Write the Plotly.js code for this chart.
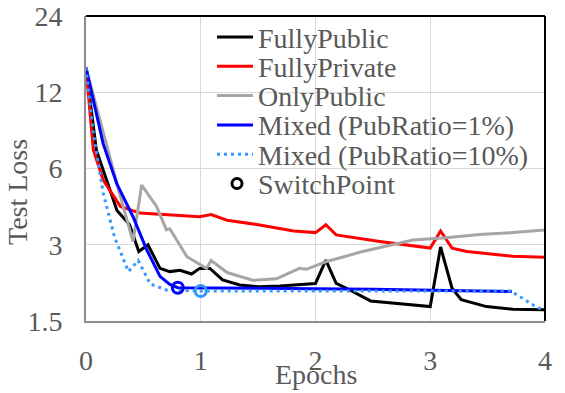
<!DOCTYPE html>
<html>
<head>
<meta charset="utf-8">
<script src="https://cdn.plot.ly/plotly-3.0.1.min.js"></script>
<style>
  body { margin: 0; background: #fff; }
  #plot { width: 565px; height: 393px; }
</style>
</head>
<body>
<div id="plot"></div>
<script>
// Epochs and test loss
var pubX = [0, 0.09, 0.27, 0.38, 0.46, 0.54, 0.645, 0.73, 0.82, 0.92, 0.99, 1.08, 1.19, 1.34, 1.5, 1.69, 2.0, 2.09, 2.18, 2.27, 2.48, 2.65, 3.0, 3.09, 3.19, 3.27, 3.49, 3.72, 4.0];
var pubY = [15, 7.1, 4.1, 3.6, 2.82, 3.0, 2.42, 2.35, 2.38, 2.3, 2.42, 2.42, 2.18, 2.08, 2.05, 2.06, 2.11, 2.61, 2.11, 2.02, 1.8, 1.77, 1.71, 2.94, 2.02, 1.82, 1.71, 1.67, 1.66];

var privX = [0, 0.064, 0.15, 0.3, 0.47, 0.99, 1.09, 1.23, 1.5, 1.81, 2.0, 2.09, 2.18, 2.56, 3.0, 3.09, 3.19, 3.32, 3.72, 4.0];
var privY = [15, 7.1, 5.4, 4.25, 4.0, 3.87, 3.95, 3.75, 3.6, 3.4, 3.35, 3.6, 3.28, 3.09, 2.91, 3.4, 2.91, 2.82, 2.7, 2.68];

var onlyX = [0, 0.15, 0.3, 0.41, 0.485, 0.615, 0.7, 0.73, 0.88, 1.05, 1.09, 1.23, 1.46, 1.66, 1.86, 1.92, 2.09, 2.41, 2.85, 3.14, 3.43, 3.72, 4.0];
var onlyY = [15, 8.3, 4.65, 3.09, 5.16, 4.25, 3.44, 3.47, 2.69, 2.42, 2.6, 2.33, 2.17, 2.2, 2.42, 2.4, 2.57, 2.82, 3.13, 3.2, 3.29, 3.35, 3.43];

var mix1X = [0, 0.15, 0.27, 0.41, 0.53, 0.645, 0.73, 0.8, 1.5, 2.5, 3.71];
var mix1Y = [15, 7.5, 5.2, 3.87, 2.86, 2.25, 2.09, 2.03, 2.02, 2.0, 1.96];

var mix10X = [0, 0.064, 0.15, 0.25, 0.37, 0.455, 0.56, 0.7, 1.0, 2.0, 3.0, 3.7, 3.8, 3.9, 4.0];
var mix10Y = [15, 8.3, 4.8, 3.2, 2.35, 2.6, 2.1, 1.99, 1.97, 1.97, 1.97, 1.97, 1.85, 1.73, 1.64];

var switchX = [0.8, 1.0];
var switchY = [2.03, 1.97];

var yTicks = [1.5, 3, 6, 12, 24];

var legendNames = ['FullyPublic', 'FullyPrivate', 'OnlyPublic', 'Mixed (PubRatio=1%)', 'Mixed (PubRatio=10%)', 'SwitchPoint'];
var legendColors = ['#000000', '#ff0000', '#a6a6a6', '#0000ff', '#3399ff', '#000000'];

var serif = 'Liberation Serif';
var textGray = '#595959';

var traces = [
    { x: pubX, y: pubY, mode: 'lines', line: { color: legendColors[0], width: 3 } },
    { x: privX, y: privY, mode: 'lines', line: { color: legendColors[1], width: 3 } },
    { x: onlyX, y: onlyY, mode: 'lines', line: { color: legendColors[2], width: 3 } },
    { x: mix1X, y: mix1Y, mode: 'lines', line: { color: legendColors[3], width: 3 } },
    { x: mix10X, y: mix10Y, mode: 'lines', line: { color: legendColors[4], width: 3, dash: '3px,4px' } },
    // switch points: first is the 1% run, second the 10% run
    { x: [switchX[0]], y: [switchY[0]], mode: 'markers',
      marker: { symbol: 'circle-open', size: 11, color: legendColors[3], line: { width: 3 } } },
    { x: [switchX[1]], y: [switchY[1]], mode: 'markers',
      marker: { symbol: 'circle-open', size: 11, color: legendColors[4], line: { width: 3 } } }
];

// hand-drawn legend so the rows can be packed as tightly as the original
var plotL = 86, plotR = 545, plotT = 16, plotB = 321;
function px2x(p) { return (p - plotL) / (plotR - plotL); }
function px2y(p) { return (plotB - p) / (plotB - plotT); }

var shapes = [
    { type: 'line', xref: 'paper', yref: 'paper', x0: 0, x1: 1, y0: 1, y1: 1, line: { color: '#000000', width: 2 } },
    { type: 'line', xref: 'paper', yref: 'paper', x0: 1, x1: 1, y0: 0, y1: 1, line: { color: '#000000', width: 2 } }
];
var annotations = [];
legendNames.forEach(function (name, i) {
    var rowY = 37 + i * 29.3;
    if (i < 5) {
        shapes.push({
            type: 'line', xref: 'paper', yref: 'paper',
            x0: px2x(217), x1: px2x(253), y0: px2y(rowY), y1: px2y(rowY),
            line: { color: legendColors[i], width: 3, dash: i === 4 ? '3px,4px' : 'solid' }
        });
    } else {
        shapes.push({
            type: 'circle', xref: 'paper', yref: 'paper',
            x0: px2x(232), x1: px2x(242), y0: px2y(rowY - 5), y1: px2y(rowY + 5),
            line: { color: legendColors[i], width: 3 }
        });
    }
    annotations.push({
        xref: 'paper', yref: 'paper', x: px2x(256), y: px2y(rowY + 1),
        xanchor: 'left', yanchor: 'middle', showarrow: false,
        text: name, font: { family: serif, size: 28, color: textGray }
    });
});
annotations.push({
    xref: 'paper', yref: 'paper', x: px2x(18), y: px2y(192),
    xanchor: 'center', yanchor: 'middle', showarrow: false, textangle: -90,
    text: 'Test Loss', font: { family: serif, size: 28, color: textGray }
});
annotations.push({
    xref: 'paper', yref: 'paper', x: px2x(316), y: px2y(392),
    xanchor: 'center', yanchor: 'bottom', showarrow: false,
    text: 'Epochs', font: { family: serif, size: 28, color: textGray }
});

var layout = {
    width: 565,
    height: 393,
    margin: { l: 86, r: 20, t: 16, b: 72 },
    paper_bgcolor: '#ffffff',
    plot_bgcolor: '#ffffff',
    font: { family: serif, size: 28, color: textGray },
    showlegend: false,
    xaxis: {
        range: [0, 4],
        dtick: 1,
        tick0: 0,
        showgrid: true,
        gridcolor: '#d9d9d9',
        gridwidth: 1,
        zeroline: false,
        showline: true,
        linecolor: '#8c8c8c',
        linewidth: 2,
        ticks: '',
        ticklabelstandoff: 13,
        tickfont: { family: serif, size: 28, color: textGray }
    },
    yaxis: {
        type: 'log',
        range: [Math.log10(1.5), Math.log10(24)],
        tickvals: yTicks,
        ticktext: yTicks.map(String),
        showgrid: true,
        gridcolor: '#d9d9d9',
        gridwidth: 1,
        zeroline: false,
        showline: true,
        linecolor: '#8c8c8c',
        linewidth: 2,
        ticks: '',
        ticklabelstandoff: 16,
        tickfont: { family: serif, size: 28, color: textGray }
    },
    shapes: shapes,
    annotations: annotations
};

Plotly.newPlot('plot', traces, layout, { staticPlot: true });
</script>
</body>
</html>
